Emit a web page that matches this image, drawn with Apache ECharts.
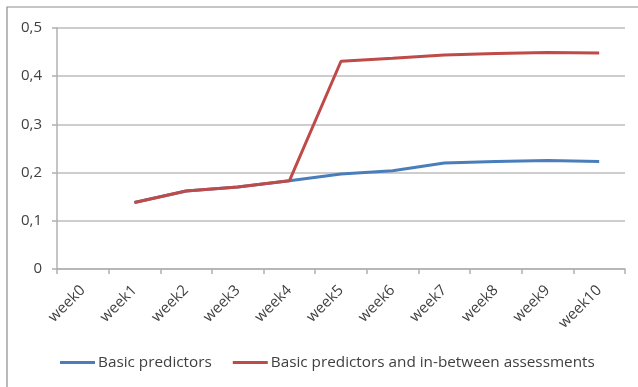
<!DOCTYPE html>
<html>
<head>
<meta charset="utf-8">
<script src="https://cdn.jsdelivr.net/npm/echarts@6/dist/echarts.min.js"></script>
<style>
  html, body { margin: 0; padding: 0; background: #fff; }
  #chart { width: 638px; height: 387px; }
</style>
</head>
<body>
<div id="chart"></div>
<script>
// Weekly categories and the two model series
var categories = ['week0', 'week1', 'week2', 'week3', 'week4', 'week5', 'week6', 'week7', 'week8', 'week9', 'week10'];
var basicPredictors = [null, 0.138, 0.162, 0.170, 0.183, 0.197, 0.204, 0.220, 0.223, 0.225, 0.223];
var withAssessments = [null, 0.138, 0.162, 0.170, 0.183, 0.431, 0.437, 0.444, 0.447, 0.449, 0.448];
var seriesNames = ['Basic predictors', 'Basic predictors and in-between assessments'];

var FONT = 'Open Sans';
var TEXT = '#404040';

var chart = echarts.init(document.getElementById('chart'), null, { renderer: 'canvas' });

chart.setOption({
  animation: false,
  backgroundColor: '#ffffff',
  textStyle: { fontFamily: FONT },
  graphic: [{
    type: 'rect',
    shape: { x: 7, y: 7, width: 700, height: 450 },
    style: { fill: 'none', stroke: '#8c8c8c', lineWidth: 1.2 },
    silent: true
  }],
  grid: { left: 57, right: 13, top: 28, bottom: 118, containLabel: false },
  legend: {
    left: 60,
    top: 355,
    padding: 0,
    icon: 'rect',
    itemWidth: 35,
    itemHeight: 3,
    itemGap: 21,
    textStyle: { fontFamily: FONT, fontSize: 15.3, color: TEXT, padding: [0, 0, 0, -2] },
    data: seriesNames
  },
  xAxis: {
    type: 'category',
    data: categories,
    boundaryGap: true,
    axisLine: { lineStyle: { color: '#b0b0b0', width: 1.5 } },
    axisTick: { show: true, length: 5, lineStyle: { color: '#b0b0b0', width: 1.5 } },
    axisLabel: { rotate: 45, margin: 19, fontFamily: FONT, fontSize: 15, color: TEXT, interval: 0 }
  },
  yAxis: {
    type: 'value',
    min: 0,
    max: 0.5,
    interval: 0.1,
    axisLine: { show: true, lineStyle: { color: '#b0b0b0', width: 1.5 } },
    axisTick: { show: true, length: 5, lineStyle: { color: '#b0b0b0', width: 1.5 } },
    splitLine: { lineStyle: { color: '#bdbdbd', width: 1.5 } },
    axisLabel: {
      margin: 15,
      fontFamily: FONT,
      fontSize: 15,
      color: TEXT,
      formatter: function (v) { return String(Math.round(v * 10) / 10).replace('.', ','); }
    }
  },
  series: [
    {
      name: seriesNames[0],
      type: 'line',
      data: basicPredictors,
      symbol: 'none',
      lineStyle: { color: '#4a7ebb', width: 3 },
      itemStyle: { color: '#4a7ebb' },
      z: 2
    },
    {
      name: seriesNames[1],
      type: 'line',
      data: withAssessments,
      symbol: 'none',
      lineStyle: { color: '#be4b48', width: 3 },
      itemStyle: { color: '#be4b48' },
      z: 3
    }
  ]
});
</script>
</body>
</html>
